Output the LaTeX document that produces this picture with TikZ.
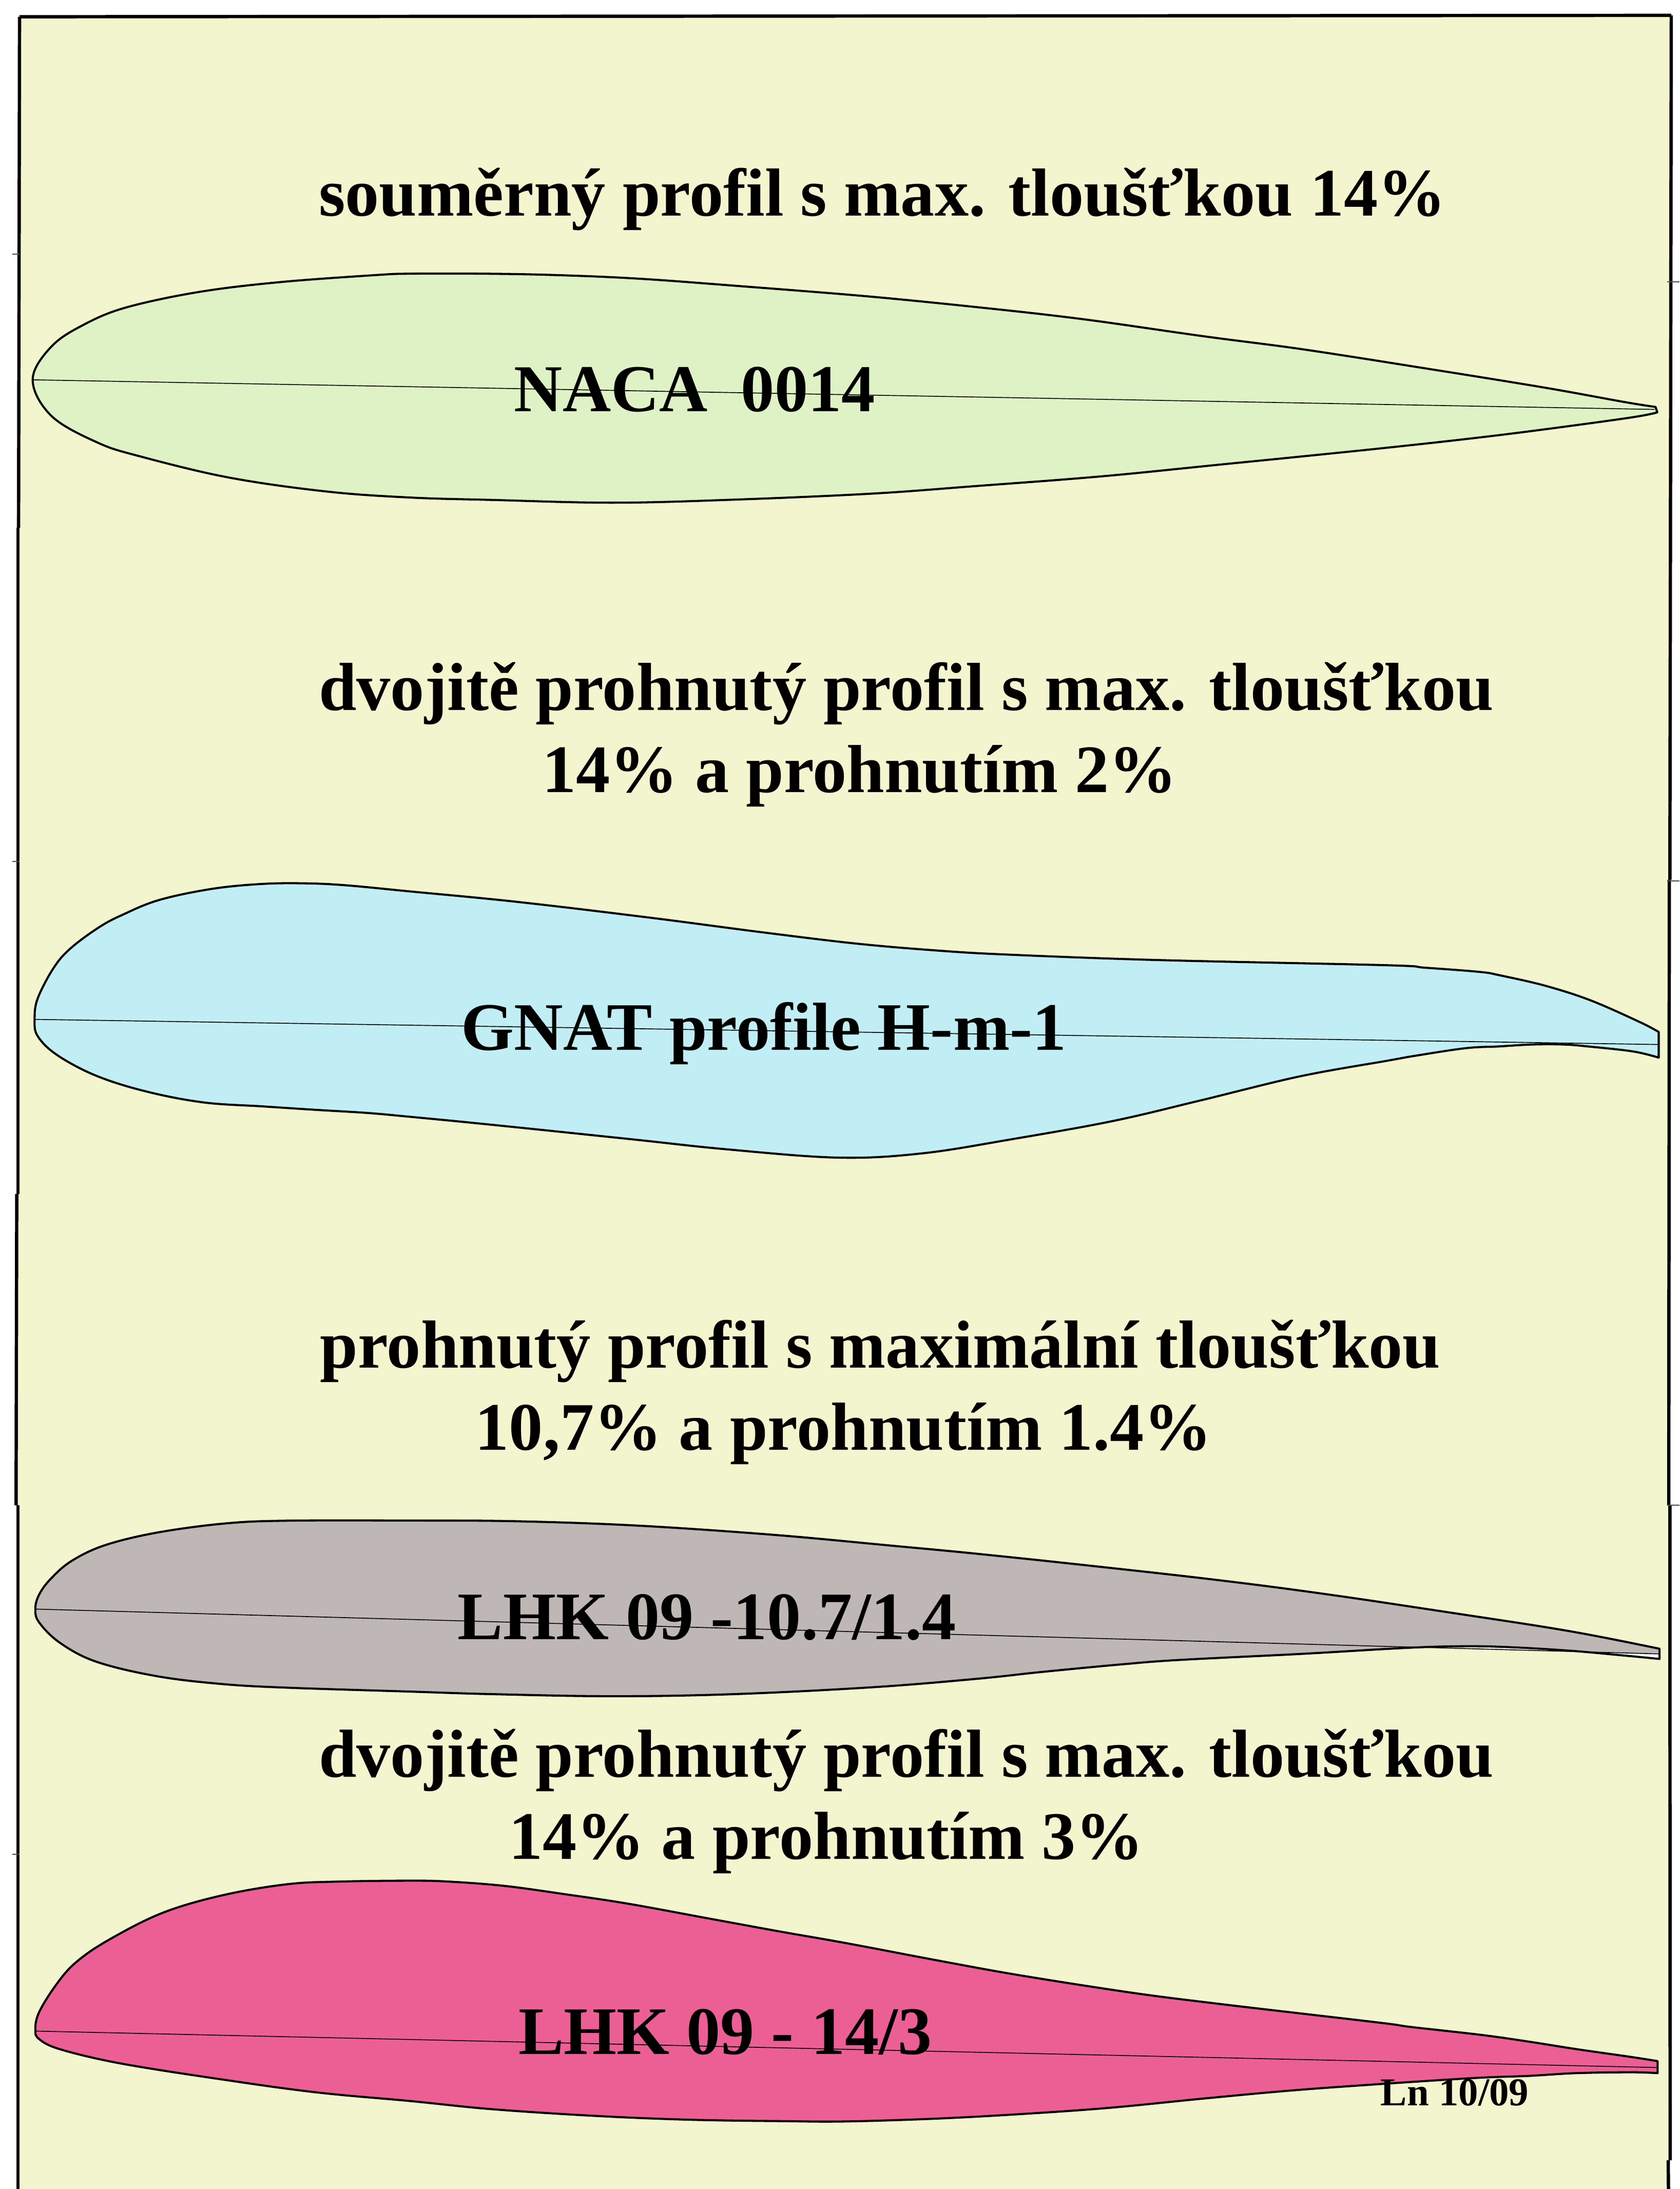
\documentclass[tikz,border=0pt]{standalone}
\usepackage{fontspec}
\setmainfont{Liberation Serif}
\definecolor{pagebg}{HTML}{F3F5CF}
\definecolor{foilgreen}{HTML}{DFF2C6}
\definecolor{foilblue}{HTML}{C1EEF4}
\definecolor{foilgray}{HTML}{BEB7B6}
\definecolor{foilpink}{HTML}{EC5F95}
\tikzset{
  foil/.style={draw=black,line width=0.85pt,line join=round},
  chordline/.style={draw=black,line width=0.35pt},
  framepart/.style={draw=black,line width=1.35pt},
  tickmark/.style={draw=black!70,line width=0.4pt},
  headtext/.style={anchor=base west,inner sep=0pt,font=\fontsize{27.7}{27.7}\selectfont\bfseries},
  nametext/.style={anchor=base west,inner sep=0pt,font=\fontsize{27.7}{27.7}\selectfont\bfseries},
  signtext/.style={anchor=base west,inner sep=0pt,font=\fontsize{16.1}{16.1}\selectfont\bfseries}
}
\begin{document}
\begin{tikzpicture}[x=0.02cm,y=-0.02cm]
\useasboundingbox (0,0) rectangle (1203,1567.6);
\fill[white] (0,0) rectangle (1203,1567.6);
\fill[pagebg] (14,12) -- (1197,11) -- (1195,1567.6) -- (12.5,1567.6) -- cycle;
% frame
\draw[framepart] (14,12) -- (1197,11);
\draw[framepart] (14,12) -- (13.3,378);
\draw[framepart] (12.9,378) -- (12.9,855);
\draw[framepart] (12,855) -- (11.5,1078);
\draw[framepart] (12.8,1078) -- (12.8,1567.6);
\draw[framepart] (1197,11) -- (1196,630);
\draw[framepart] (1195.6,630) -- (1195.2,1078);
\draw[framepart] (1196,1078) -- (1196.2,1547);
\draw[framepart] (1194.8,1547) -- (1195,1567.6);
% ticks
\foreach \yy in {182,617,1328}{\draw[tickmark] (9,\yy) -- (14,\yy);}
\foreach \yy in {202,631,1078}{\draw[tickmark] (1194,\yy) -- (1203,\yy);}
% NACA 0014
\path[foil,fill=foilgreen] plot[smooth,tension=0.6] coordinates {(1185.7,291.4)(1164,288)(1105.7,277.5)(1019,263.5)(932,250)(862,240.8)(775,228.5)(700,220)(618.7,212)(526,204.6)(456.4,199.5)(398.4,197)(346,196)(294,196)(269,197)(201,202)(143,209)(91,220)(61,232)(37,248)(23.4,272)(37,298)(70,317)(101,327)(164,342)(234,352)(294,356.3)(352,358)(439,360)(526,357.8)(624.5,353.5)(700,348)(787,341.3)(874,332.7)(989.8,321)(1077,311.2)(1164,299.6)(1187,295.3)} -- cycle;
\coordinate (a1) at (23.4,272); \coordinate (a2) at (1185,293.2);
\draw[chordline] (a1) -- (a2);
% GNAT
\path[foil,fill=foilblue] plot[smooth,tension=0.6] coordinates {(1188,739)(1173.8,731.6)(1139,716.3)(1106.7,705.9)(1074.5,698.5)(1059.7,696)(1020.8,693)(992.5,691.2)(828.6,687.5)(721.7,683.6)(672.7,680.8)(615,675.9)(548,667.9)(463.4,656.9)(370,645.8)(294,638.4)(248,634)(219,632.6)(188,633)(152,636.5)(114,644.5)(88,655)(71,664)(50.7,679)(38.5,693)(27,715)(24.8,730)(27,742)(41,755.6)(69,770.4)(105,781.7)(146,789.5)(188,792.3)(225,794.7)(263,797)(294,799.8)(347.6,805)(450,815.6)(520,823)(600,829)(660,826)(726,815.6)(797.5,802.7)(860,788)(931,770.8)(992.5,759.8)(1014,756)(1050,750.6)(1073,749.4)(1097.3,748)(1120,748)(1137.6,749.4)(1169.8,753)(1188,757.4)} -- cycle;
\coordinate (b1) at (24.8,730); \coordinate (b2) at (1188,748);
\draw[chordline] (b1) -- (b2);
% LHK 10.7
\def\graypts{(1188.6,1180.7)(1123,1167.9)(1036,1154.4)(949,1141.5)(873.8,1131.7)(787,1121.9)(700,1112.7)(642,1107.2)(555,1099.2)(456.4,1092.5)(369.5,1089.4)(294,1088.9)(206,1089)(161,1091)(112.6,1097.5)(75,1106.6)(51,1118)(36,1131)(28,1142)(25.3,1152)(28,1161.8)(43,1176.5)(69,1190)(112.6,1200.4)(159.5,1206)(206,1208.6)(294,1211.4)(352,1213.2)(439,1214.7)(526,1213.2)(624.5,1208.3)(700,1202.2)(746.3,1197.3)(804.3,1191.8)(845,1188.7)(931.8,1184.4)(1007,1180.1)(1047.7,1178.9)(1079.6,1179.5)(1123,1182)(1163.7,1185.6)(1188.6,1188)}
\path[fill=foilgray] plot[smooth,tension=0.6] coordinates {\graypts} -- cycle;
\coordinate (c1) at (25.3,1152.3); \coordinate (c2) at (1188,1184.4);
\fill[white] (1060,1179.6) -- (1123,1182.2) -- (1163.7,1186) -- (1188.6,1188) -- (c2) -- (1060,1181) -- cycle;
\path[foil] plot[smooth,tension=0.6] coordinates {\graypts} -- cycle;
\draw[chordline] (c1) -- (c2);
% LHK 14/3
\path[foil,fill=foilpink] plot[smooth,tension=0.6] coordinates {(1187.2,1476)(1168,1473)(1129,1467.4)(1094.6,1462)(1061.5,1457.3)(1011,1451.6)(992.5,1449)(931,1441.8)(873,1435)(819.7,1428.3)(766.3,1420.3)(717.3,1412.3)(664,1402.5)(606,1391.5)(557,1382.9)(503.5,1373.1)(450,1363.3)(405.5,1356.6)(361,1350.5)(320.8,1347.4)(294,1346.8)(244,1347.4)(206,1349.3)(159.5,1357.2)(116,1370)(77,1389.7)(54,1405.6)(40,1421.6)(28,1441)(25.3,1453.4)(28,1460.2)(43,1467.5)(84.4,1477.3)(150,1487.8)(225,1498.2)(294,1504.6)(352,1510.4)(427.7,1515.3)(494.5,1518)(561.4,1519)(606,1519.2)(672.7,1517.1)(739.5,1513.4)(797.5,1509.2)(860,1503)(926.6,1496.9)(992,1492.2)(1058,1488)(1094.6,1486.6)(1129,1484.6)(1168.6,1484)(1187.2,1484.6)} -- cycle;
\coordinate (d1) at (25.3,1454.5); \coordinate (d2) at (1187,1480.6);
\draw[chordline] (d1) -- (d2);
% texts
\node[headtext] (t1) at (228,154.5) {souměrný profil s max. tloušťkou 14\%};
\node[nametext,font=\fontsize{27.3}{27.3}\selectfont\bfseries] (n1) at (368,294.5) {NACA\ \ 0014};
\node[headtext] (t2) at (228,508.5) {dvojitě prohnutý profil s max. tloušťkou};
\node[headtext] (t2b) at (388,567.5) {14\% a prohnutím 2\%};
\node[nametext] (n2) at (330,752) {GNAT profile H-m-1};
\node[headtext] (t3) at (229,979.5) {prohnutý profil s maximální tloušťkou};
\node[headtext] (t3b) at (340,1038.5) {10,7\% a prohnutím 1.4\%};
\node[nametext] (n3) at (327.5,1174) {LHK 09 -10.7/1.4};
\node[headtext] (t4) at (228,1272.5) {dvojitě prohnutý profil s max. tloušťkou};
\node[headtext] (t4b) at (364,1331.5) {14\% a prohnutím 3\%};
\node[nametext] (n4) at (371,1471) {LHK 09 - 14/3};
\node[signtext] (s1) at (988.5,1507.8) {Ln 10/09};
\end{tikzpicture}
\end{document}
